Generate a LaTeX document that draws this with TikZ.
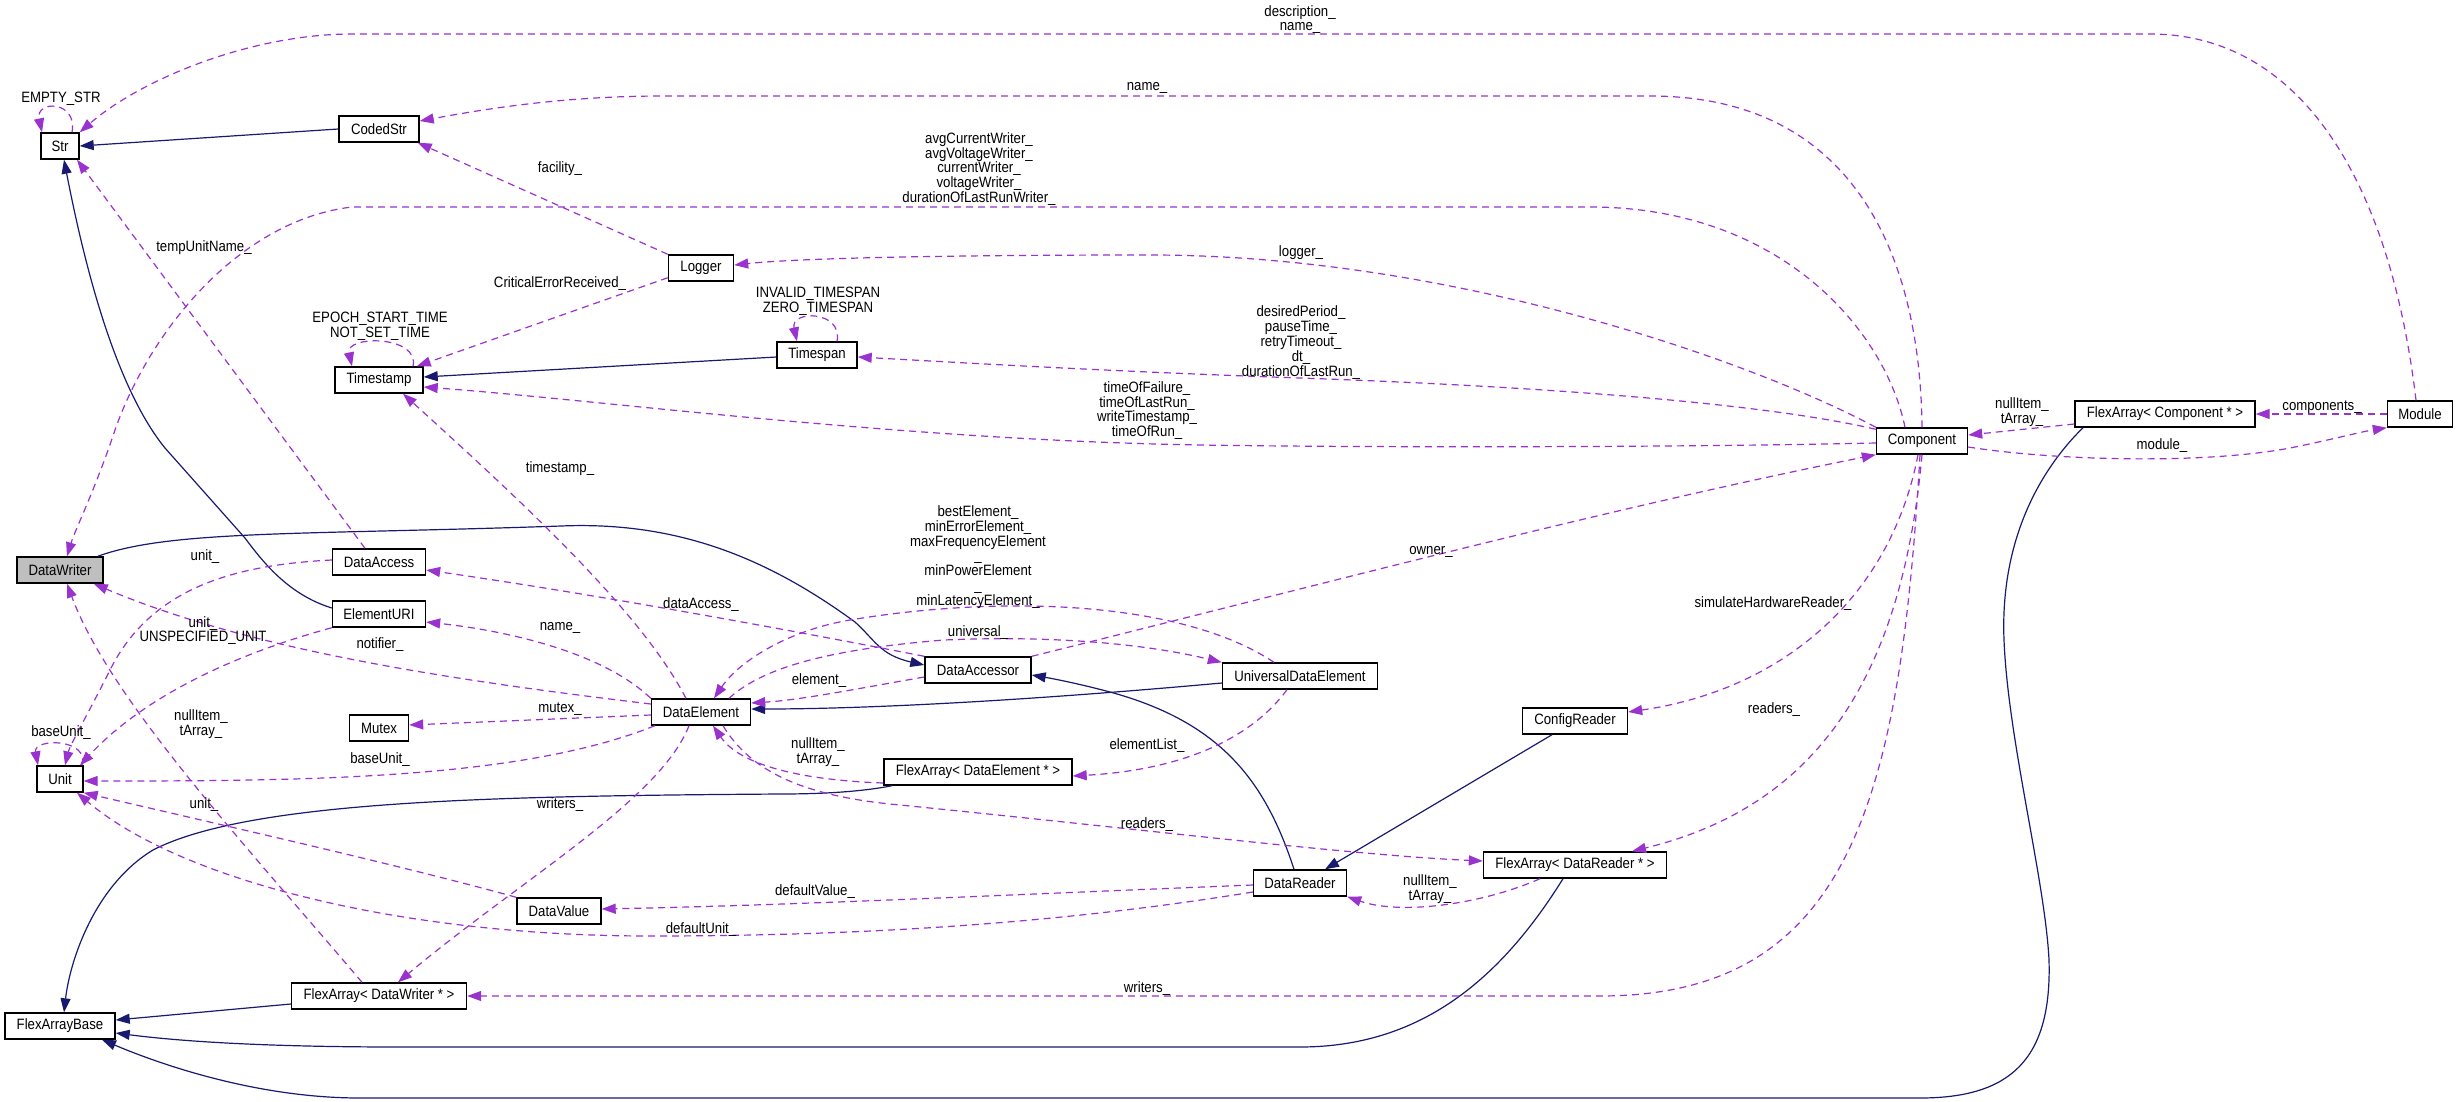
\documentclass[tikz,border=0pt]{standalone}
\usepackage{fontspec}
\setmainfont{Liberation Sans}[FakeStretch=0.88]
\usetikzlibrary{arrows.meta}
\definecolor{inhcol}{RGB}{25,25,112}
\definecolor{usecol}{RGB}{154,50,205}
\definecolor{grayfill}{RGB}{191,191,191}
\begin{document}
\begin{tikzpicture}[x=1pt,y=-1pt,
 box/.style={draw=black, line width=1.4pt, fill=white, minimum height=26pt, inner sep=0pt, font=\fontsize{15}{14.8}\selectfont},
 lbl/.style={align=center, inner sep=0pt, font=\fontsize{15}{14.8}\selectfont},
 inh/.style={draw=inhcol, line width=1.2pt, -{Triangle[length=14pt,width=10pt]}},
 use/.style={draw=usecol, line width=1.2pt, dash pattern=on 7pt off 5pt, -{Triangle[length=14pt,width=10pt]}},
]
\useasboundingbox (0,0) rectangle (2457,1101);
% nodes
\node[box, minimum width=38pt] (str) at (60,146) {Str};
\node[box, minimum width=80pt] (codedstr) at (379,129) {CodedStr};
\node[box, minimum width=65pt] (logger) at (701,268) {Logger};
\node[box, minimum width=88pt] (timestamp) at (379,380) {Timestamp};
\node[box, minimum width=80pt] (timespan) at (817,355) {Timespan};
\node[box, minimum width=86pt, fill=grayfill] (datawriter) at (60,570) {DataWriter};
\node[box, minimum width=93pt] (dataaccess) at (379,562) {DataAccess};
\node[box, minimum width=93pt] (elementuri) at (379,614) {ElementURI};
\node[box, minimum width=59pt] (mutex) at (379,728) {Mutex};
\node[box, minimum width=46pt] (unit) at (60,779) {Unit};
\node[box, minimum width=99pt] (dataelement) at (701,712) {DataElement};
\node[box, minimum width=84pt] (datavalue) at (559,911) {DataValue};
\node[box, minimum width=175pt] (fadw) at (379,996) {FlexArray< DataWriter * >};
\node[box, minimum width=110pt] (fab) at (60,1026) {FlexArrayBase};
\node[box, minimum width=106pt] (dataaccessor) at (978,670) {DataAccessor};
\node[box, minimum width=155pt] (ude) at (1300,676) {UniversalDataElement};
\node[box, minimum width=105pt] (configreader) at (1575,721) {ConfigReader};
\node[box, minimum width=188pt] (fade) at (978,772) {FlexArray< DataElement * >};
\node[box, minimum width=93pt] (datareader) at (1300,883) {DataReader};
\node[box, minimum width=183pt] (fadr) at (1575,865) {FlexArray< DataReader * >};
\node[box, minimum width=91pt] (component) at (1922,441) {Component};
\node[box, minimum width=180pt] (facomp) at (2165,414) {FlexArray< Component * >};
\node[box, minimum width=65pt] (module) at (2420,414) {Module};
% inheritance
\draw[inh] (codedstr.west) -- (str.east);
\draw[inh] ([yshift=6]elementuri.west) .. controls (290,595) and (265,565) .. (245,538) -- (165,448) .. controls (130,405) and (95,320) .. ([xshift=4]str.south);
\draw[inh] ([yshift=-2]timespan.west) -- ([yshift=3]timestamp.east);
\draw[inh] ([xshift=-6]datawriter.north east) .. controls (170,530) and (300,535) .. (561,526) .. controls (680,521) and (770,560) .. (855,622) .. controls (875,640) and (880,655) .. ([yshift=5]dataaccessor.west);
\draw[inh] ([yshift=-7]ude.west) .. controls (1000,703) and (850,709) .. ([yshift=3]dataelement.east);
\draw[inh] ([xshift=-6]datareader.north) .. controls (1265,780) and (1220,722) .. (1110,692) .. controls (1080,684) and (1055,679) .. ([yshift=-5]dataaccessor.east);
\draw[inh] ([xshift=-23]configreader.south) -- ([xshift=25]datareader.north);
\draw[inh] ([xshift=-86]fade.south) .. controls (860,792) and (820,794) .. (780,794) .. controls (500,796) and (250,800) .. (153,850) .. controls (95,885) and (70,960) .. ([xshift=4]fab.north);
\draw[inh] ([yshift=-8]fadw.west) -- ([yshift=6]fab.east);
\draw[inh] ([xshift=-12]fadr.south) .. controls (1500,980) and (1420,1047) .. (1300,1047) -- (400,1047) .. controls (250,1047) and (170,1040) .. ([yshift=-7]fab.east);
\draw[inh] ([xshift=-82]facomp.south) .. controls (2040,470) and (2000,540) .. (2004,640) .. controls (2008,740) and (2045,880) .. (2049,960) .. controls (2052,1060) and (2010,1098) .. (1920,1098) -- (360,1098) .. controls (250,1098) and (150,1060) .. ([xshift=42]fab.south);
% usage
\draw[use] ([xshift=-4]module.north) .. controls (2390,180) and (2300,34) .. (2150,34) -- (352,34) .. controls (250,34) and (140,80) .. (str.north east);
\draw[use] ([xshift=12]str.north) .. controls (78,100) and (35,100) .. ([xshift=-18]str.north);
\draw[use] (component.north) .. controls (1920,250) and (1850,96) .. (1650,96) -- (663,96) .. controls (560,96) and (480,110) .. ([yshift=8]codedstr.east);
\draw[use] ([xshift=-17]component.north) .. controls (1885,330) and (1780,207) .. (1590,207) -- (352,207) .. controls (240,220) and (150,330) .. (115,430) .. controls (95,490) and (75,530) .. ([xshift=7]datawriter.north);
\draw[use] (component.north west) .. controls (1750,360) and (1450,255) .. (1150,255) .. controls (950,255) and (800,258) .. ([yshift=3]logger.east);
\draw[use] (logger.north west) -- ([xshift=-2]codedstr.south east);
\draw[use] ([yshift=4]logger.south west) -- ([xshift=-7]timestamp.north east);
\draw[use] ([xshift=34]timestamp.north) .. controls (420,335) and (345,335) .. ([xshift=-27]timestamp.north);
\draw[use] ([xshift=20]timespan.north) .. controls (843,310) and (790,310) .. ([xshift=-20]timespan.north);
\draw[use] ([yshift=-2]component.north west) .. controls (1750,400) and (1500,385) .. (1300,378) .. controls (1100,371) and (950,362) .. ([yshift=-2]timespan.east);
\draw[use] ([yshift=-2]component.west) .. controls (1700,447) and (1400,448) .. (1200,445) .. controls (900,440) and (600,400) .. ([yshift=-7]timestamp.east);
\draw[use] ([yshift=-6]component.east) .. controls (2050,460) and (2200,465) .. (2290,448) .. controls (2330,440) and (2360,432) .. (module.south west);
\draw[use] ([yshift=-10]facomp.west) -- ([yshift=6]component.east);
\draw[use] (module.west) -- (facomp.east);
\draw[use] ([xshift=-14]dataaccess.north) -- ([xshift=17]str.south);
\draw[use] ([yshift=2]dataaccess.west) .. controls (230,565) and (150,590) .. (110,670) .. controls (90,710) and (70,745) .. ([xshift=5]unit.north);
\draw[use] (elementuri.south west) .. controls (250,650) and (150,690) .. ([xshift=20]unit.north);
\draw[use] ([xshift=22]unit.north) .. controls (90,738) and (33,738) .. ([xshift=-22]unit.north);
\draw[use] (dataaccessor.north west) .. controls (800,632) and (600,595) .. ([yshift=-8]dataaccess.east);
\draw[use] (dataelement.north west) .. controls (600,650) and (500,630) .. ([yshift=-8]elementuri.east);
\draw[use] ([yshift=8]dataelement.west) .. controls (450,680) and (250,650) .. ([xshift=-10]datawriter.south east);
\draw[use] ([yshift=-3]dataelement.west) -- ([yshift=3]mutex.east);
\draw[use] ([xshift=4]dataelement.south west) .. controls (520,780) and (300,781) .. ([yshift=-2]unit.east);
\draw[use] ([xshift=-15]dataelement.north) .. controls (640,610) and (520,500) .. ([xshift=24]timestamp.south);
\draw[use] ([xshift=-12]dataelement.south) .. controls (660,800) and (520,880) .. ([xshift=19]fadw.north);
\draw[use] ([xshift=22]dataelement.south) .. controls (750,770) and (800,796) .. (900,805) .. controls (1150,830) and (1350,855) .. ([yshift=4]fadr.west);
\draw[use] ([yshift=-11]fade.west) .. controls (800,780) and (740,765) .. ([xshift=12]dataelement.south);
\draw[use] ([yshift=-7]dataaccessor.west) .. controls (850,690) and (800,700) .. ([yshift=9]dataelement.east);
\draw[use] ([xshift=-26]ude.north) .. controls (1180,600) and (1000,595) .. (850,620) .. controls (790,630) and (740,660) .. ([xshift=13]dataelement.north);
\draw[use] ([xshift=28]dataelement.north) .. controls (760,670) and (820,650) .. (944,640) .. controls (1060,635) and (1150,645) .. (ude.north west);
\draw[use] ([xshift=-13]ude.south) .. controls (1250,740) and (1180,770) .. ([yshift=-4]fade.east);
\draw[use] (dataaccessor.north east) .. controls (1300,590) and (1600,510) .. (component.south west);
\draw[use] ([xshift=-4]component.south) .. controls (1890,600) and (1780,690) .. ([yshift=9]configreader.east);
\draw[use] (component.south) .. controls (1900,700) and (1800,810) .. ([xshift=57]fadr.north);
\draw[use] ([xshift=-2]component.south) .. controls (1900,800) and (1850,996) .. (1600,996) -- (fadw.east);
\draw[use] ([xshift=-17]fadw.north) .. controls (250,850) and (110,700) .. ([xshift=7]datawriter.south);
\draw[use] ([yshift=-2]datareader.west) .. controls (1000,895) and (800,905) .. ([yshift=2]datavalue.east);
\draw[use] ([yshift=-9]datareader.west) .. controls (1050,925) and (850,936) .. (650,936) .. controls (400,936) and (180,880) .. ([xshift=17]unit.south);
\draw[use] ([xshift=-35]fadr.south) .. controls (1480,905) and (1400,915) .. (datareader.south east);
\draw[use] (datavalue.north west) .. controls (400,865) and (200,820) .. (unit.south east);
% labels
\node[lbl] (l1) at (61,99) {EMPTY\_STR};
\node[lbl] (l2) at (1300,19.5) {description\_\\name\_};
\node[lbl] (l3) at (1147,88) {name\_};
\node[lbl] (l4) at (979,169) {avgCurrentWriter\_\\avgVoltageWriter\_\\currentWriter\_\\voltageWriter\_\\durationOfLastRunWriter\_};
\node[lbl] (l5) at (560,169) {facility\_};
\node[lbl] (l6) at (1301,253) {logger\_};
\node[lbl] (l7) at (204,248) {tempUnitName\_};
\node[lbl] (l8) at (560,284) {CriticalErrorReceived\_};
\node[lbl] (l9) at (818,301) {INVALID\_TIMESPAN\\ZERO\_TIMESPAN};
\node[lbl] (l10) at (380,326.5) {EPOCH\_START\_TIME\\NOT\_SET\_TIME};
\node[lbl] (l11) at (1301,342.5) {desiredPeriod\_\\pauseTime\_\\retryTimeout\_\\dt\_\\durationOfLastRun\_};
\node[lbl] (l12) at (1147,410.5) {timeOfFailure\_\\timeOfLastRun\_\\writeTimestamp\_\\timeOfRun\_};
\node[lbl] (l13) at (2022,412.5) {nullItem\_\\tArray\_};
\node[lbl] (l14) at (2322,407) {components\_};
\node[lbl] (l15) at (2162,446) {module\_};
\node[lbl] (l16) at (560,469) {timestamp\_};
\node[lbl] (l17) at (978,557) {bestElement\_\\minErrorElement\_\\maxFrequencyElement\\\_\\minPowerElement\\\_\\minLatencyElement\_};
\node[lbl] (l18) at (1431,552) {owner\_};
\node[lbl] (l19) at (205,557) {unit\_};
\node[lbl] (l20) at (1773,604) {simulateHardwareReader\_};
\node[lbl] (l21) at (701,605) {dataAccess\_};
\node[lbl] (l22) at (203,630.5) {unit\_\\UNSPECIFIED\_UNIT};
\node[lbl] (l23) at (560,628) {name\_};
\node[lbl] (l24) at (978,633) {universal\_};
\node[lbl] (l25) at (380,645) {notifier\_};
\node[lbl] (l26) at (819,681) {element\_};
\node[lbl] (l27) at (1774,710) {readers\_};
\node[lbl] (l28) at (560,709) {mutex\_};
\node[lbl] (l29) at (201,724.5) {nullItem\_\\tArray\_};
\node[lbl] (l30) at (61,733) {baseUnit\_};
\node[lbl] (l31) at (1147,746) {elementList\_};
\node[lbl] (l32) at (818,752) {nullItem\_\\tArray\_};
\node[lbl] (l33) at (380,760) {baseUnit\_};
\node[lbl] (l34) at (204,805) {unit\_};
\node[lbl] (l35) at (560,805) {writers\_};
\node[lbl] (l36) at (1147,825) {readers\_};
\node[lbl] (l37) at (1430,889.5) {nullItem\_\\tArray\_};
\node[lbl] (l38) at (815,892) {defaultValue\_};
\node[lbl] (l39) at (701,930) {defaultUnit\_};
\node[lbl] (l40) at (1147,989) {writers\_};
\end{tikzpicture}
\end{document}
